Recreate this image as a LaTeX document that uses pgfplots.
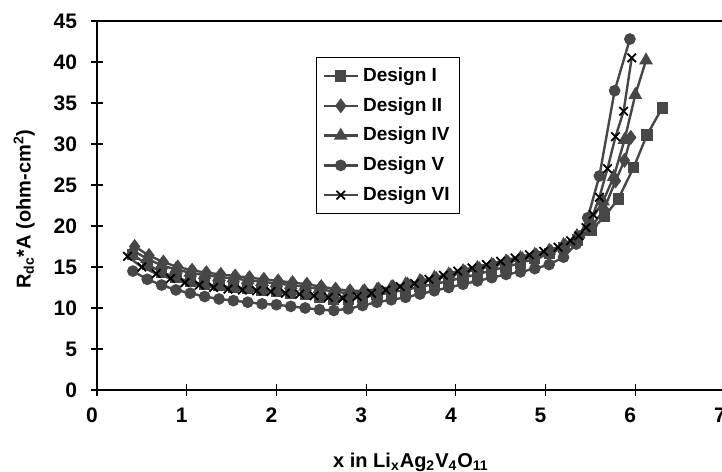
\documentclass[border=0pt]{standalone}
\usepackage{fontspec}
\setmainfont{Liberation Sans}
\usepackage{pgfplots}
\pgfplotsset{compat=1.18}

\definecolor{serie}{HTML}{474747}

\begin{document}
\begin{tikzpicture}[trim right=312.5pt]
\clip (-48.5pt,-40.5pt) rectangle (312.5pt,195pt);
\begin{axis}[
  scale only axis, width=314pt, height=184.5pt,
  line width=1.4pt,
  xmin=0, xmax=7, ymin=0, ymax=45,
  xtick={0,1,...,7}, ytick={0,5,...,45},
  tick style={line width=0.6pt, black},
  tick align=center, major tick length=6pt,
  xtick pos=bottom, ytick pos=left,
  /pgf/number format/assume math mode=true,
  tick label style={font=\bfseries\fontsize{10.5}{12}\selectfont},
  yticklabel style={xshift=-3pt},
  xticklabel style={yshift=-2pt, xshift=-2.5pt},
  label style={font=\bfseries\fontsize{10}{12}\selectfont},
  xlabel={x in Li\textsubscript{x}Ag\textsubscript{2}V\textsubscript{4}O\textsubscript{11}},
  ylabel={R\textsubscript{dc}*A (ohm-cm\textsuperscript{2})},
  xlabel style={at={(axis description cs:0.5,-0.195)}, anchor=center},
  ylabel style={at={(axis description cs:-0.116,0.49)}, anchor=center},
  legend style={at={(axis cs:2.44,40.6)}, anchor=north west, draw=black, line width=0.6pt,
    font=\bfseries\fontsize{9.5}{11}\selectfont, row sep=2.5pt, inner sep=3pt},
  legend cell align=left,
  every axis plot/.append style={line width=1.2pt, color=serie, mark options={solid, fill=serie}},
]
% Design I
\addplot[mark=square*, mark size=2.2pt] coordinates {
(0.40,16.5) (0.56,15.3) (0.72,14.4) (0.88,13.7) (1.04,13.2) (1.20,12.9) (1.36,12.7) (1.52,12.5)
(1.68,12.4) (1.84,12.2) (2.00,12.0) (2.16,11.8) (2.32,11.6) (2.48,11.3) (2.64,11.1) (2.80,11.1)
(2.96,11.3) (3.12,11.6) (3.28,11.9) (3.44,12.2) (3.60,12.6) (3.76,12.9) (3.92,13.3) (4.08,13.7)
(4.24,14.1) (4.40,14.6) (4.56,15.0) (4.72,15.5) (4.88,16.0) (5.04,16.6) (5.20,17.4) (5.36,18.3)
(5.51,19.5) (5.66,21.2) (5.81,23.3) (5.98,27.1) (6.13,31.1) (6.30,34.4)};
\addlegendentry{Design I}
% Design II
\addplot[mark=diamond*, mark size=2.8pt] coordinates {
(0.42,17.5) (0.58,16.4) (0.74,15.6) (0.90,15.0) (1.06,14.6) (1.22,14.3) (1.38,14.1) (1.54,13.9)
(1.70,13.7) (1.86,13.5) (2.02,13.3) (2.18,13.1) (2.34,12.9) (2.50,12.6) (2.66,12.3) (2.82,12.1)
(2.98,12.1) (3.14,12.3) (3.30,12.6) (3.46,12.9) (3.62,13.2) (3.78,13.6) (3.94,14.0) (4.10,14.4)
(4.26,14.8) (4.42,15.2) (4.58,15.6) (4.74,16.0) (4.90,16.4) (5.06,16.9) (5.22,17.6) (5.38,18.6)
(5.52,20.0) (5.65,22.0) (5.78,25.5) (5.88,28.0) (5.95,30.8)};
\addlegendentry{Design II}
% Design IV
\addplot[mark=triangle*, mark size=2.8pt] coordinates {
(0.40,17.0) (0.56,16.0) (0.72,15.2) (0.88,14.7) (1.04,14.3) (1.20,14.0) (1.36,13.8) (1.52,13.6)
(1.68,13.4) (1.84,13.2) (2.00,13.0) (2.16,12.8) (2.32,12.6) (2.48,12.3) (2.64,12.0) (2.80,11.8)
(2.96,11.9) (3.12,12.2) (3.28,12.5) (3.44,12.9) (3.60,13.3) (3.76,13.7) (3.92,14.1) (4.08,14.5)
(4.24,14.9) (4.40,15.3) (4.56,15.7) (4.72,16.1) (4.88,16.5) (5.04,17.0) (5.20,17.7) (5.35,18.8)
(5.50,20.6) (5.64,23.0) (5.76,26.0) (5.88,30.5) (6.00,36.0) (6.12,40.2)};
\addlegendentry{Design IV}
% Design V
\addplot[mark=*, mark size=2.3pt] coordinates {
(0.40,14.5) (0.56,13.5) (0.72,12.8) (0.88,12.2) (1.04,11.8) (1.20,11.4) (1.36,11.1) (1.52,10.9)
(1.68,10.7) (1.84,10.5) (2.00,10.4) (2.16,10.2) (2.32,10.0) (2.48,9.8) (2.64,9.7) (2.80,9.9)
(2.96,10.3) (3.12,10.7) (3.28,11.0) (3.44,11.3) (3.60,11.7) (3.76,12.1) (3.92,12.5) (4.08,12.9)
(4.24,13.3) (4.40,13.7) (4.56,14.1) (4.72,14.4) (4.88,14.8) (5.04,15.3) (5.20,16.2) (5.34,17.8)
(5.47,21.0) (5.60,26.1) (5.77,36.5) (5.94,42.8)};
\addlegendentry{Design V}
% Design VI
\addplot[mark=x, mark size=3pt, mark options={black, line width=0.9pt}] coordinates {
(0.34,16.3) (0.50,15.0) (0.66,14.2) (0.82,13.6) (0.98,13.1) (1.14,12.8) (1.30,12.5) (1.46,12.3)
(1.62,12.2) (1.78,12.1) (1.94,12.0) (2.10,11.8) (2.26,11.7) (2.42,11.5) (2.58,11.3) (2.74,11.2)
(2.90,11.4) (3.06,11.8) (3.22,12.2) (3.38,12.6) (3.54,13.0) (3.70,13.5) (3.86,14.0) (4.02,14.5)
(4.18,14.9) (4.34,15.3) (4.50,15.7) (4.66,16.1) (4.82,16.5) (4.98,16.9) (5.14,17.4) (5.28,18.2)
(5.37,18.8) (5.45,19.8) (5.53,21.4) (5.60,23.5) (5.69,27.0) (5.78,30.9) (5.87,34.0) (5.96,40.5)};
\addlegendentry{Design VI}
\end{axis}
\end{tikzpicture}
\end{document}
